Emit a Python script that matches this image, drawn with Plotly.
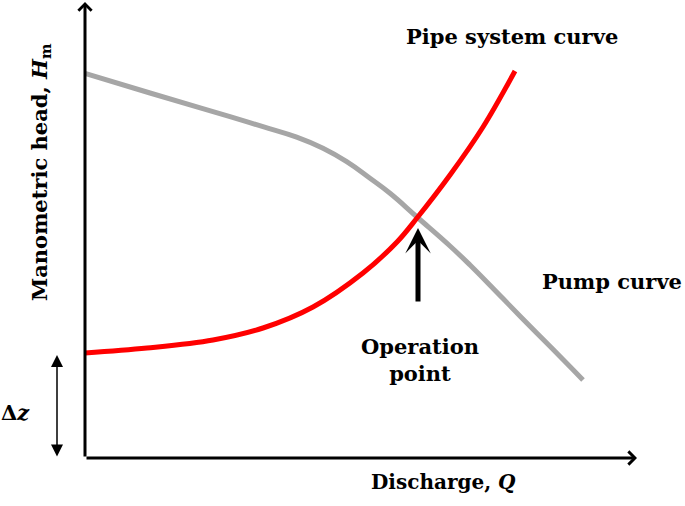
import plotly.graph_objects as go

# Pump curve (discharge Q, head H) in arbitrary units
pump_q = [0.0, 1.3, 2.9, 3.56, 4.234, 4.76, 5.234, 5.7, 6.1, 6.64, 7.3, 7.7, 8.36, 9.034, 9.56, 9.96]
pump_h = [9.6175, 9.125, 8.5325, 8.2825, 8.02, 7.7425, 7.4075, 6.9925, 6.6175, 6.025, 5.3, 4.825,
          3.985, 3.125, 2.4625, 1.95]

# Pipe system curve
pipe_q = [0.0, 1.24, 2.56, 3.56, 4.56, 5.56, 6.24, 6.64, 7.3, 7.96, 8.6]
pipe_h = [2.625, 2.75, 2.95, 3.25, 3.775, 4.625, 5.4, 6.0, 7.075, 8.275, 9.675]

op_q, op_h, op_base = 6.66, 5.75, 3.875   # operation point arrow
dz = 2.575                                 # static head

FONT = "DejaVu Serif"
fig = go.Figure()
fig.add_trace(go.Scatter(x=pump_q, y=pump_h, mode="lines",
                         line=dict(color="#A6A6A6", width=5, shape="spline", smoothing=1.3),
                         hoverinfo="skip"))
fig.add_trace(go.Scatter(x=pipe_q, y=pipe_h, mode="lines",
                         line=dict(color="#FF0000", width=5, shape="spline", smoothing=1.0),
                         hoverinfo="skip"))

ann = []
# axes with arrows
ann.append(dict(x=11.04, y=0, ax=0, ay=0, xref="x", yref="y", axref="x", ayref="y",
                showarrow=True, arrowhead=4, arrowwidth=3, arrowsize=0.85, arrowcolor="black", text=""))
ann.append(dict(x=0, y=11.4, ax=0, ay=0, xref="x", yref="y", axref="x", ayref="y",
                showarrow=True, arrowhead=4, arrowwidth=3, arrowsize=0.85, arrowcolor="black", text=""))
# operation point arrow
ann.append(dict(x=op_q, y=op_h, ax=op_q, ay=op_base, xref="x", yref="y", axref="x", ayref="y",
                showarrow=True, arrowhead=3, arrowwidth=5, arrowsize=0.85, arrowcolor="black", text=""))
# delta z double arrow
ann.append(dict(x=-0.56, y=dz, ax=-0.56, ay=0, xref="x", yref="y", axref="x", ayref="y",
                showarrow=True, arrowhead=2, startarrowhead=2, arrowside="end+start",
                arrowwidth=1.5, arrowsize=1.6, startarrowsize=1.6, arrowcolor="black", text=""))

tf = dict(family=FONT, size=21, color="black")
ann.append(dict(x=8.54, y=10.55, xref="x", yref="y", text="<b>Pipe system curve</b>", showarrow=False, font=tf))
ann.append(dict(x=11.98, y=4.425, xref="x", yref="y", xanchor="right", text="<b>Pump curve</b>",
                showarrow=False, font=tf))
ann.append(dict(x=6.7, y=2.45, xref="x", yref="y", text="<b>Operation</b><br><b>point</b>", showarrow=False, font=tf))
ann.append(dict(x=7.16, y=-0.6, xref="x", yref="y", text="<b>Discharge, <i>Q</i></b>", showarrow=False,
                font=dict(family=FONT, size=20, color="black")))
ann.append(dict(x=-0.9, y=7.15, xref="x", yref="y", text="<b>Manometric head, <i>H</i><sub>m</sub></b>",
                showarrow=False, textangle=-90, font=tf))
ann.append(dict(x=-1.4, y=1.15, xref="x", yref="y", text="<b>Δ<i>z</i></b>", showarrow=False, font=tf))

fig.update_layout(
    width=685, height=506, margin=dict(l=0, r=0, t=0, b=0),
    paper_bgcolor="white", plot_bgcolor="white", showlegend=False,
    xaxis=dict(range=[-1.7, 12.0], visible=False, fixedrange=True),
    yaxis=dict(range=[-1.2, 11.45], visible=False, fixedrange=True),
    annotations=ann,
)
fig.write_html("out.html", config={"displayModeBar": False},
               post_script="document.body.style.margin='0';")
